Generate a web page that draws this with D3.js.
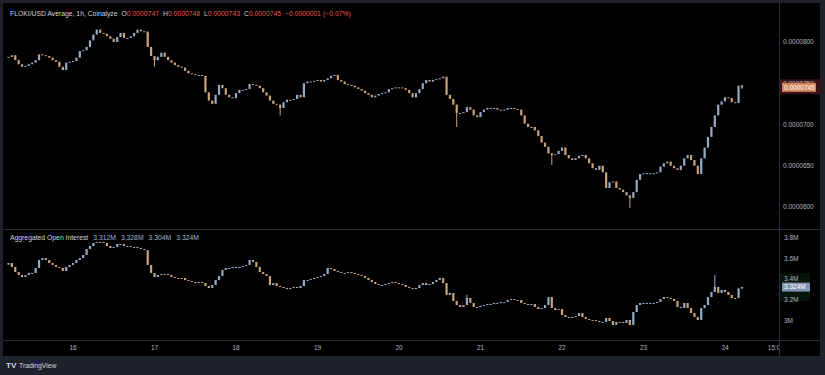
<!DOCTYPE html>
<html>
<head>
<meta charset="utf-8">
<script src="https://cdn.jsdelivr.net/npm/d3@7"></script>
<style>
  html, body { margin: 0; padding: 0; background: #1e222d; }
  svg { display: block; font-family: "Liberation Sans", Arial, sans-serif; }
</style>
</head>
<body>
<svg id="chart" width="825" height="375"></svg>
<script>
// hourly candles, first one is the 15th 05:00, last one the 24th 05:00
const firstBar = Date.UTC(2024, 11, 15, 5);

// FLOKI/USD closes, in units of 0.0000001
const priceClose = [
  782, 784, 778, 773, 770, 771, 773, 775, 778, 785,
  784, 783, 781, 778, 776, 770, 766, 775, 776, 777,
  781, 789, 790, 794, 802, 809, 815, 811, 810, 807,
  804, 800, 806, 811, 805, 805, 807, 811, 815, 813,
  812, 794, 783, 778, 782, 787, 782, 778, 775, 772,
  770, 769, 765, 762, 761, 760, 760, 759, 739, 729,
  725, 736, 748, 744, 736, 733, 732, 738, 742, 742,
  743, 749, 748, 747, 744, 739, 735, 729, 725, 724,
  720, 727, 730, 730, 731, 736, 733, 750, 752, 752,
  753, 754, 752, 754, 756, 759, 760, 754, 752, 749,
  748, 747, 745, 743, 741, 738, 736, 733, 735, 737,
  738, 739, 743, 744, 745, 745, 744, 742, 738, 733,
  738, 743, 750, 754, 752, 754, 755, 756, 758, 736,
  731, 724, 714, 714, 715, 721, 718, 711, 709, 715,
  718, 720, 720, 720, 718, 718, 718, 720, 720, 719,
  718, 711, 701, 697, 697, 693, 686, 678, 673, 665,
  663, 664, 668, 672, 663, 659, 657, 659, 662, 663,
  659, 653, 647, 645, 650, 642, 623, 630, 631, 623,
  621, 618, 614, 611, 618, 633, 640, 641, 641, 641,
  641, 642, 649, 653, 655, 650, 647, 645, 650, 659,
  663, 657, 650, 640, 659, 672, 685, 697, 711, 724,
  728, 733, 732, 727, 726, 747, 745
];
const priceFirstOpen = 781;
// the few wicks that stick out of the bodies: [bar, high, low]
const priceWicks = [
  [41, 813, null], [43, null, 770], [80, null, 711], [132, null, 697],
  [160, null, 651], [183, null, 599], [216, 748, 743]
];

// aggregated open interest closes, millions
const oiClose = [
  3.556, 3.518, 3.469, 3.440, 3.421, 3.440, 3.460, 3.460, 3.508, 3.585,
  3.604, 3.585, 3.556, 3.537, 3.518, 3.508, 3.479, 3.518, 3.537, 3.556,
  3.585, 3.604, 3.633, 3.691, 3.720, 3.749, 3.759, 3.759, 3.749, 3.720,
  3.701, 3.710, 3.739, 3.739, 3.720, 3.720, 3.710, 3.710, 3.701, 3.691,
  3.681, 3.537, 3.460, 3.421, 3.440, 3.450, 3.450, 3.440, 3.421, 3.412,
  3.412, 3.412, 3.392, 3.383, 3.373, 3.363, 3.373, 3.363, 3.334, 3.315,
  3.344, 3.392, 3.431, 3.489, 3.508, 3.508, 3.518, 3.518, 3.518, 3.527,
  3.537, 3.585, 3.566, 3.518, 3.469, 3.450, 3.431, 3.344, 3.363, 3.334,
  3.325, 3.315, 3.306, 3.315, 3.325, 3.315, 3.334, 3.392, 3.392, 3.402,
  3.412, 3.421, 3.431, 3.450, 3.508, 3.498, 3.479, 3.469, 3.460, 3.460,
  3.469, 3.460, 3.450, 3.440, 3.431, 3.412, 3.392, 3.373, 3.354, 3.344,
  3.344, 3.354, 3.363, 3.373, 3.363, 3.354, 3.344, 3.325, 3.315, 3.306,
  3.315, 3.344, 3.363, 3.344, 3.354, 3.373, 3.392, 3.412, 3.363, 3.248,
  3.267, 3.190, 3.151, 3.132, 3.151, 3.219, 3.171, 3.132, 3.132, 3.142,
  3.151, 3.161, 3.161, 3.171, 3.171, 3.180, 3.180, 3.200, 3.209, 3.200,
  3.200, 3.171, 3.161, 3.151, 3.161, 3.132, 3.113, 3.122, 3.151, 3.228,
  3.122, 3.103, 3.113, 3.055, 3.036, 3.026, 3.036, 3.045, 3.074, 3.036,
  3.016, 3.007, 3.007, 2.997, 2.988, 2.988, 3.026, 2.997, 2.959, 2.988,
  2.988, 2.978, 3.007, 2.959, 3.084, 3.151, 3.171, 3.171, 3.171, 3.171,
  3.171, 3.180, 3.209, 3.228, 3.219, 3.209, 3.190, 3.132, 3.122, 3.171,
  3.122, 3.074, 3.036, 3.007, 3.122, 3.151, 3.228, 3.277, 3.325, 3.267,
  3.296, 3.277, 3.248, 3.219, 3.219, 3.312, 3.324
];
const oiFirstOpen = 3.540;
const oiWicks = [[135, 3.250, null], [208, 3.440, null], [216, 3.328, 3.304]];

const priceTicks = [600, 650, 700, 750, 800];
const oiTicks = [3.0, 3.2, 3.4, 3.6, 3.8];
const oiTickLabels = ["3M", "3.2M", "3.4M", "3.6M", "3.8M"];
const dayTicks = [16, 17, 18, 19, 20, 21, 22, 23, 24];
const lastTick = { day: 24, hour: 15, label: "15:00" };

const UP = "#93abc4";
const DOWN = "#caa37a";
const AXIS_TEXT = "#b2b5be";
const LINE = "#2a2e39";

const svg = d3.select("#chart");
const HOUR = 3600 * 1000;
const day = (d, h = 0) => new Date(Date.UTC(2024, 11, d, h));

// time scale, 16th at x=73 and 24th at x=725
const x = d3.scaleTime().domain([day(16), day(24)]).range([73, 725]);
const yPrice = d3.scaleLinear().domain([600, 800]).range([207, 42]);
const yOi = d3.scaleLinear().domain([3.0, 3.8]).range([320.7, 237.7]);

function candles(closes, firstOpen, wicks) {
  const extra = new Map(wicks.map(w => [w[0], w]));
  return closes.map((c, i) => {
    const o = i === 0 ? firstOpen : closes[i - 1];
    const w = extra.get(i);
    return {
      t: new Date(firstBar + i * HOUR),
      o, c,
      h: w && w[1] != null ? w[1] : Math.max(o, c),
      l: w && w[2] != null ? w[2] : Math.min(o, c)
    };
  });
}

// chart background
svg.append("rect").attr("x", 0).attr("y", 0).attr("width", 825).attr("height", 375).attr("fill", "#1e222d");
svg.append("rect").attr("x", 3).attr("y", 3).attr("width", 817).attr("height", 353).attr("fill", "#000");

svg.append("defs").append("clipPath").attr("id", "plot")
  .append("rect").attr("x", 3).attr("y", 3).attr("width", 776).attr("height", 353);

function drawCandles(g, data, y) {
  const bw = 2.2;
  g.selectAll("line.wick").data(data.filter(d => d.h > Math.max(d.o, d.c) || d.l < Math.min(d.o, d.c)))
    .join("line").attr("class", "wick")
    .attr("x1", d => x(d.t)).attr("x2", d => x(d.t))
    .attr("y1", d => y(d.h)).attr("y2", d => y(d.l))
    .attr("stroke", d => d.c >= d.o ? UP : DOWN).attr("stroke-width", 1);
  g.selectAll("rect.body").data(data).join("rect").attr("class", "body")
    .attr("x", d => x(d.t) - bw / 2).attr("width", bw)
    .attr("y", d => y(Math.max(d.o, d.c)))
    .attr("height", d => Math.max(1, Math.abs(y(d.o) - y(d.c))))
    .attr("fill", d => d.c >= d.o ? UP : DOWN);
}

const plot = svg.append("g").attr("clip-path", "url(#plot)");
drawCandles(plot.append("g"), candles(priceClose, priceFirstOpen, priceWicks), yPrice);
drawCandles(plot.append("g"), candles(oiClose, oiFirstOpen, oiWicks), yOi);

// separators
svg.append("line").attr("x1", 3).attr("x2", 820).attr("y1", 229.5).attr("y2", 229.5).attr("stroke", LINE);
svg.append("line").attr("x1", 3).attr("x2", 820).attr("y1", 340.5).attr("y2", 340.5).attr("stroke", LINE);
svg.append("line").attr("x1", 779.5).attr("x2", 779.5).attr("y1", 3).attr("y2", 356).attr("stroke", LINE);

const fmtPrice = v => (v * 1e-7).toFixed(7);
const lastPrice = priceClose[priceClose.length - 1];
const lp = yPrice(lastPrice);
const lastOi = oiClose[oiClose.length - 1];
const lo = yOi(lastOi);

// soft highlight behind the last value labels (under the tick texts)
svg.append("rect").attr("x", 780).attr("y", lp - 8).attr("width", 42).attr("height", 15).attr("fill", "#3a1414");
svg.append("rect").attr("x", 780).attr("y", lo - 14).attr("width", 30).attr("height", 28).attr("fill", "#06140b");

// right axes
svg.append("g").selectAll("text").data(priceTicks).join("text")
  .attr("x", 783).attr("y", d => yPrice(d)).attr("dy", "0.35em")
  .attr("font-size", 6.5).attr("fill", AXIS_TEXT).text(fmtPrice);

svg.append("g").selectAll("text").data(oiTicks).join("text")
  .attr("x", 784).attr("y", d => yOi(d)).attr("dy", "0.35em")
  .attr("font-size", 6.5).attr("fill", AXIS_TEXT).text((d, i) => oiTickLabels[i]);

// last value labels
svg.append("rect").attr("x", 782).attr("y", lp - 4.5).attr("width", 34).attr("height", 9).attr("fill", "#d4875c");
svg.append("text").attr("x", 784).attr("y", lp).attr("dy", "0.35em").attr("font-size", 6.5)
  .attr("fill", "#fff").text(fmtPrice(lastPrice));

svg.append("rect").attr("x", 782).attr("y", lo - 4.5).attr("width", 28).attr("height", 9).attr("fill", "#7f96b0");
svg.append("text").attr("x", 784).attr("y", lo).attr("dy", "0.35em").attr("font-size", 6.5)
  .attr("fill", "#fff").text(d3.format(".3f")(lastOi) + "M");

// time axis
const xAxis = svg.append("g").attr("clip-path", "url(#plot)");
xAxis.selectAll("text.day").data(dayTicks).join("text").attr("class", "day")
  .attr("x", d => x(day(d))).attr("y", 350).attr("text-anchor", "middle")
  .attr("font-size", 6.5).attr("fill", AXIS_TEXT).text(d => d);
xAxis.append("text").attr("x", x(day(lastTick.day, lastTick.hour))).attr("y", 350)
  .attr("text-anchor", "middle").attr("font-size", 6.5).attr("fill", AXIS_TEXT).text(lastTick.label);

// legends
const RED = "#ef5350";
const leg = svg.append("text").attr("x", 10).attr("y", 16).attr("font-size", 6.8).attr("fill", "#d1d4dc");
leg.append("tspan").text("FLOKI/USD Average, 1h, Coinalyze");
[["O", "0.0000747"], ["H", "0.0000748"], ["L", "0.0000743"], ["C", "0.0000745"]].forEach(([k, v]) => {
  leg.append("tspan").attr("dx", 4).text(k);
  leg.append("tspan").attr("fill", RED).text(v);
});
leg.append("tspan").attr("dx", 4).attr("fill", RED).text("\u22120.0000001 (\u22120.07%)");

const oiLeg = svg.append("text").attr("x", 10).attr("y", 240).attr("font-size", 6.8).attr("fill", "#d1d4dc");
oiLeg.append("tspan").text("Aggregated Open Interest");
["3.312M", "3.328M", "3.304M", "3.324M"].forEach(v => {
  oiLeg.append("tspan").attr("dx", 5).attr("fill", "#9db6cf").text(v);
});

// TradingView mark
const tv = svg.append("g").attr("fill", "#d1d4dc");
tv.append("text").attr("x", 6).attr("y", 368).attr("font-size", 8).attr("font-weight", "bold").text("TV");
tv.append("text").attr("x", 19).attr("y", 368).attr("font-size", 6.8).text("TradingView");
</script>
</body>
</html>
